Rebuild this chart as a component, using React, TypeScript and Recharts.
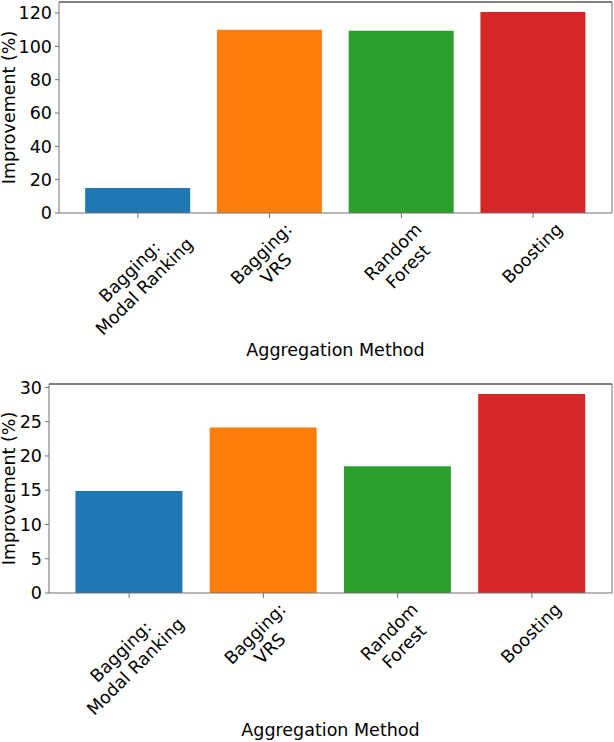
import { Bar, BarChart, Cell, XAxis, YAxis } from "recharts";

const CATEGORIES = ["Bagging:\nModal Ranking", "Bagging:\nVRS", "Random\nForest", "Boosting"];
const TOP_VALUES = [15.0, 110.0, 109.4, 120.6];
const BOTTOM_VALUES = [14.9, 24.15, 18.5, 29.05];
const TOP_TICKS = [0, 20, 40, 60, 80, 100, 120];
const BOTTOM_TICKS = [0, 5, 10, 15, 20, 25, 30];
const COLORS = ["#1f77b4", "#ff7f0e", "#2ca02c", "#d62728"];

const FONT = '"DejaVu Sans", Verdana, sans-serif';
const FS = 17.5;
const SPINE = "#707070";

let ctx: CanvasRenderingContext2D | null = null;
function textWidth(s: string) {
  if (!ctx) ctx = document.createElement("canvas").getContext("2d");
  if (!ctx) return s.length * FS * 0.6;
  ctx.font = `${FS}px ${FONT}`;
  return ctx.measureText(s).width;
}

// matplotlib-style rotated tick label: rotated bbox centred on the tick, top just below the axis
function RotatedTick(props: any) {
  const { x, y, payload } = props;
  const lines = String(payload.value).split("\n");
  const lineGap = FS * 1.2;
  const W = Math.max(...lines.map(textWidth));
  const H = lineGap * (lines.length - 1) + FS * 0.98;
  const cy = y + 3 + (Math.SQRT1_2 * (W + H)) / 2;
  return (
    <g transform={`translate(${x},${cy}) rotate(-45)`}>
      {lines.map((l, i) => (
        <text key={i} x={0} y={-H / 2 + FS * 0.76 + i * lineGap} textAnchor="middle"
          fontSize={FS} fontFamily={FONT} fill="#000">{l}</text>
      ))}
    </g>
  );
}

function Panel({ values, ticks, max, height, top, yWidth, xHeight }: {
  values: number[]; ticks: number[]; max: number; height: number; top: number; yWidth: number; xHeight: number;
}) {
  const data = CATEGORIES.map((name, i) => ({ name, value: values[i] }));
  const plotW = 612 - yWidth;
  const pad = Math.round((plotW * 0.1) / 4.2);
  return (
    <BarChart width={614} height={height} data={data} barCategoryGap="10%"
      margin={{ top: top - 1, right: 1, left: 0, bottom: 0 }}>
      <XAxis dataKey="name" height={xHeight} padding={{ left: pad, right: pad }} interval={0}
        tickSize={5} tickMargin={0} tickLine={{ stroke: SPINE }} axisLine={{ stroke: SPINE }}
        tick={<RotatedTick />}
        label={{
          content: (p: any) => (
            <text x={p.viewBox.x + p.viewBox.width / 2} y={p.viewBox.y + 143} textAnchor="middle"
              fontSize={FS} fontFamily={FONT} fill="#000">Aggregation Method</text>
          ),
        }} />
      <XAxis xAxisId="top" orientation="top" dataKey="name" height={1} tick={false} tickLine={false}
        padding={{ left: pad, right: pad }} axisLine={{ stroke: "#000" }} />
      <YAxis type="number" domain={[0, max]} ticks={ticks} width={yWidth} tickSize={4} tickMargin={3}
        tick={{ fontSize: FS, fontFamily: FONT, fill: "#000" }} tickLine={{ stroke: SPINE }}
        axisLine={{ stroke: SPINE }}
        label={{
          content: (p: any) => {
            const cx = 15;
            const cy = p.viewBox.y + p.viewBox.height / 2;
            return (
              <text x={cx} y={cy} transform={`rotate(-90, ${cx}, ${cy})`} textAnchor="middle"
                fontSize={FS} fontFamily={FONT} fill="#000">Improvement (%)</text>
            );
          },
        }} />
      <YAxis yAxisId="right" orientation="right" dataKey="value" type="number" domain={[0, max]} width={1}
        tick={false} tickLine={false} axisLine={{ stroke: SPINE }} />
      <Bar dataKey="value" isAnimationActive={false}>
        {data.map((_, i) => <Cell key={i} fill={COLORS[i]} />)}
      </Bar>
    </BarChart>
  );
}

export default function App() {
  return (
    <div style={{ position: "absolute", left: 0, top: 0, width: 614, height: 742, background: "#fff", fontFamily: FONT }}>
      <Panel values={TOP_VALUES} ticks={TOP_TICKS} max={126.6} height={370} top={2} yWidth={59} xHeight={157} />
      <Panel values={BOTTOM_VALUES} ticks={BOTTOM_TICKS} max={30.5} height={372} top={14} yWidth={49} xHeight={149} />
    </div>
  );
}
